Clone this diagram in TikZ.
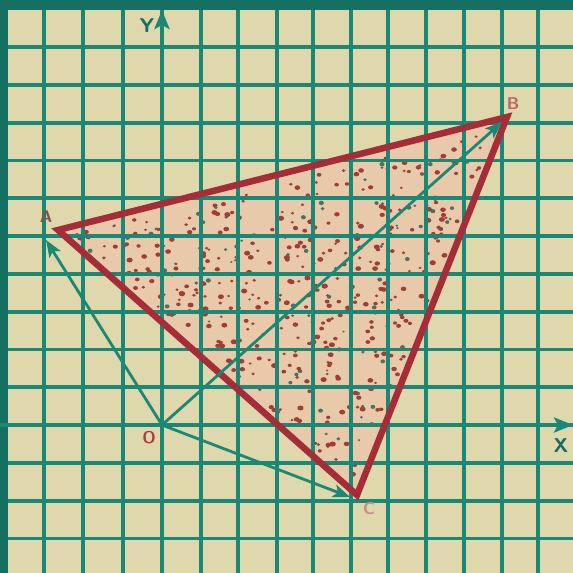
\documentclass[tikz,border=0pt]{standalone}
\usetikzlibrary{arrows.meta}
\definecolor{paper}{RGB}{222,216,172}
\definecolor{teal1}{RGB}{26,136,116}
\definecolor{frame}{RGB}{22,112,98}
\definecolor{redline}{RGB}{165,45,55}
\definecolor{pinkfill}{RGB}{232,202,170}
\definecolor{dotred}{RGB}{158,62,55}
\definecolor{dotteal}{RGB}{80,110,100}
\definecolor{lblred}{RGB}{170,60,70}
\begin{document}
\begin{tikzpicture}[x=1pt,y=-1pt,
  gridline/.style={draw=teal1,line width=3.8pt},
  axisline/.style={draw=teal1,line width=4pt,-{Stealth[length=19pt,width=15pt,inset=4pt]}},
  vec/.style={draw=teal1,line width=2.8pt,-{Stealth[length=17pt,width=13pt,inset=4pt]}},
  tri/.style={draw=redline,line width=6.5pt,line join=miter},
  lbl/.style={font=\sffamily\bfseries\fontsize{17}{17}\selectfont,inner sep=0pt},
  axlbl/.style={font=\sffamily\bfseries\fontsize{20}{20}\selectfont,inner sep=0pt,text=frame}]
\useasboundingbox (0,0) rectangle (573,573);
\fill[paper] (0,0) rectangle (573,573);
\coordinate (O) at (162,425);
\coordinate (A) at (58,230);
\coordinate (B) at (507,117);
\coordinate (C) at (357,495);
\coordinate (Ae) at (46,240);
\coordinate (Be) at (502,122);
\coordinate (Ce) at (350,497);
\coordinate (Ybot) at (162,573);
\coordinate (Ytip) at (162,10);
\coordinate (Xl) at (0,425);
\coordinate (Xtip) at (573,425);
% triangle fill
\fill[pinkfill] (A) -- (B) -- (C) -- cycle;
% speckles
\pgfmathsetseed{11}
\foreach \i in {1,...,470}{
  \pgfmathsetmacro\ra{rnd}
  \pgfmathsetmacro\rb{rnd}
  \pgfmathsetmacro\ua{(\ra+\rb>1) ? 1-\ra : \ra}
  \pgfmathsetmacro\ub{(\ra+\rb>1) ? 1-\rb : \rb}
  \pgfmathsetmacro\px{58+14+\ua*(507-58-24)+\ub*(357-58-16)}
  \pgfmathsetmacro\py{230+5+\ua*(117-230+9)+\ub*(495-230-18)}
  \pgfmathsetmacro\rr{1.5+1.7*rnd}
  \pgfmathsetmacro\ss{rnd}
  \ifdim\ss pt<0.8pt
    \fill[dotred] (\px,\py) ellipse [x radius=\rr, y radius=0.8*\rr];
  \else
    \fill[dotteal] (\px,\py) ellipse [x radius=0.8*\rr, y radius=0.7*\rr];
  \fi
}
% grid
\foreach \x in {44,83,123,162,201,238,277,313,351,388,426,464,502,538}
  \draw[gridline] (\x,0) -- (\x,573);
\foreach \y in {47,84.8,122.6,160.4,198.2,236,273.8,311.6,349.4,387.2,425,462.8,500.6,538.4}
  \draw[gridline] (0,\y) -- (573,\y);
\fill[frame] (0,0) rectangle (8,573);
\fill[frame] (0,0) rectangle (573,10);
% axes
\draw[axisline] (Ybot) -- (Ytip);
\draw[axisline] (Xl) -- (Xtip);
% triangle outline
\draw[tri] (A) -- (B) -- (C) -- cycle;
% vectors
\draw[vec] (O) -- (Ae);
\draw[vec] (O) -- (Be);
\draw[vec] (O) -- (Ce);
% labels
\node[axlbl] (ly) at (147,26) {Y};
\node[axlbl] (lx) at (561,446) {X};
\node[lbl,text=lblred!70!teal1] (la) at (46,217) {A};
\node[lbl,text=lblred!80!white] (lb) at (513,104) {B};
\node[lbl,text=lblred] (lo) at (149,438) {O};
\node[lbl,text=lblred!60!white] (lc) at (369,509) {C};
\end{tikzpicture}
\end{document}
